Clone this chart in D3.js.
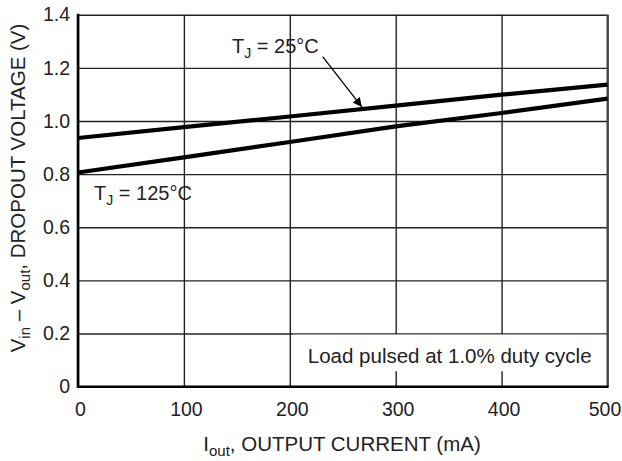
<!DOCTYPE html>
<html>
<head>
<meta charset="utf-8">
<script src="https://cdn.jsdelivr.net/npm/d3@7"></script>
<style>
  body { margin: 0; background: #fff; }
  text { font-family: "Liberation Sans", Arial, sans-serif; fill: #222; }
</style>
</head>
<body>
<svg id="svgHolder"></svg>
<script>
// dropout voltage vs output current
let currents = [0, 100, 200, 300, 400, 500];
let vdrop25 = [0.936, 0.977, 1.017, 1.058, 1.099, 1.137];
let vdrop125 = [0.806, 0.863, 0.921, 0.980, 1.030, 1.084];
let xTicks = [0, 100, 200, 300, 400, 500];
let yTicks = [0, 0.2, 0.4, 0.6, 0.8, 1.0, 1.2, 1.4];

let width = 622;
let height = 461;
let padLeft = 78, padRight = 607.5, padTop = 14.7, padBottom = 386.7;

let svg = d3.select('#svgHolder').attr('width', width).attr('height', height);

let xScale = d3.scaleLinear().domain([0, 500]).range([padLeft, padRight]);
let yScale = d3.scaleLinear().domain([0, 1.4]).range([padBottom, padTop]);

// grid lines
svg.append('g')
    .attr('transform', 'translate(0,' + padBottom + ')')
    .call(d3.axisBottom(xScale).tickValues(xTicks).tickSize(-(padBottom - padTop)).tickFormat(''))
    .call(g => g.select('.domain').remove())
    .selectAll('line').attr('stroke', '#222').attr('stroke-width', 1.4);

svg.append('g')
    .attr('transform', 'translate(' + padLeft + ',0)')
    .call(d3.axisLeft(yScale).tickValues(yTicks).tickSize(-(padRight - padLeft)).tickFormat(''))
    .call(g => g.select('.domain').remove())
    .selectAll('line').attr('stroke', '#222').attr('stroke-width', 1.4);

// note box covers part of the grid
svg.append('rect')
    .attr('x', xScale(203)).attr('y', yScale(0.2) + 1)
    .attr('width', xScale(500) - xScale(203) - 1)
    .attr('height', yScale(0.058) - yScale(0.2) - 1)
    .attr('fill', '#fff');

svg.append('text')
    .attr('x', xScale(217)).attr('y', 363)
    .style('font-size', '20.5px')
    .text('Load pulsed at 1.0% duty cycle');

// frame
svg.append('line').attr('x1', padRight).attr('x2', padRight).attr('y1', padTop).attr('y2', padBottom)
    .attr('stroke', '#444').attr('stroke-width', 2);
svg.append('line').attr('x1', padLeft).attr('x2', padLeft).attr('y1', padTop - 1).attr('y2', padBottom + 1)
    .attr('stroke', '#000').attr('stroke-width', 2.6);
svg.append('line').attr('x1', padLeft - 1).attr('x2', padRight + 1).attr('y1', padBottom).attr('y2', padBottom)
    .attr('stroke', '#000').attr('stroke-width', 2.6);

// tick labels
svg.append('g')
    .attr('transform', 'translate(0,' + padBottom + ')')
    .call(d3.axisBottom(xScale).tickValues(xTicks).tickSize(0).tickPadding(15).tickFormat(d3.format('d')))
    .call(g => g.select('.domain').remove())
    .selectAll('text').style('font-size', '19.5px').attr('fill', '#222')
    .style('font-family', '"Liberation Sans", Arial, sans-serif')
    .attr('dx', (d) => d === 500 ? -3 : 2);

svg.append('g')
    .attr('transform', 'translate(' + padLeft + ',0)')
    .call(d3.axisLeft(yScale).tickValues(yTicks).tickSize(0).tickPadding(8).tickFormat((d) => d === 0 ? '0' : d3.format('.1f')(d)))
    .call(g => g.select('.domain').remove())
    .selectAll('text').style('font-size', '19.5px').attr('fill', '#222')
    .style('font-family', '"Liberation Sans", Arial, sans-serif');

// curves
let line = d3.line()
    .x((d) => xScale(d[0]))
    .y((d) => yScale(d[1]));

svg.append('path')
    .datum(currents.map((c, i) => [c, vdrop25[i]]))
    .attr('d', line)
    .attr('fill', 'none').attr('stroke', '#000').attr('stroke-width', 4.2);

svg.append('path')
    .datum(currents.map((c, i) => [c, vdrop125[i]]))
    .attr('d', line)
    .attr('fill', 'none').attr('stroke', '#000').attr('stroke-width', 4.2);

// annotations
svg.append('defs').append('marker')
    .attr('id', 'arrow').attr('viewBox', '0 0 10 10')
    .attr('refX', 10).attr('refY', 5)
    .attr('markerWidth', 13).attr('markerHeight', 9)
    .attr('markerUnits', 'userSpaceOnUse')
    .attr('orient', 'auto')
    .append('path').attr('d', 'M0,0 L10,5 L0,10 Z').attr('fill', '#000');

svg.append('line')
    .attr('x1', xScale(231)).attr('y1', yScale(1.242))
    .attr('x2', xScale(268)).attr('y2', yScale(1.053))
    .attr('stroke', '#000').attr('stroke-width', 1.3)
    .attr('marker-end', 'url(#arrow)');

function tjLabel(x, y, temp) {
    let t = svg.append('text').attr('x', x).attr('y', y).style('font-size', '20px');
    t.append('tspan').text('T');
    t.append('tspan').attr('dy', 5).style('font-size', '14px').text('J');
    t.append('tspan').attr('dy', -5).text(' = ' + temp + '°C');
}
tjLabel(232, 53, 25);
tjLabel(94, 200, 125);

// axis titles
let xt = svg.append('text').attr('x', 342).attr('y', 451)
    .attr('text-anchor', 'middle').style('font-size', '20.5px');
xt.append('tspan').text('I');
xt.append('tspan').attr('dy', 5).style('font-size', '15px').text('out');
xt.append('tspan').attr('dy', -5).text(', OUTPUT CURRENT (mA)');

let yt = svg.append('text')
    .attr('transform', 'translate(25,188) rotate(-90)')
    .attr('text-anchor', 'middle').style('font-size', '20.5px');
yt.append('tspan').text('V');
yt.append('tspan').attr('dy', 5).style('font-size', '15px').text('in');
yt.append('tspan').attr('dy', -5).text(' \u2013 V');
yt.append('tspan').attr('dy', 5).style('font-size', '15px').text('out');
yt.append('tspan').attr('dy', -5).text(', DROPOUT VOLTAGE (V)');
</script>
</body>
</html>
